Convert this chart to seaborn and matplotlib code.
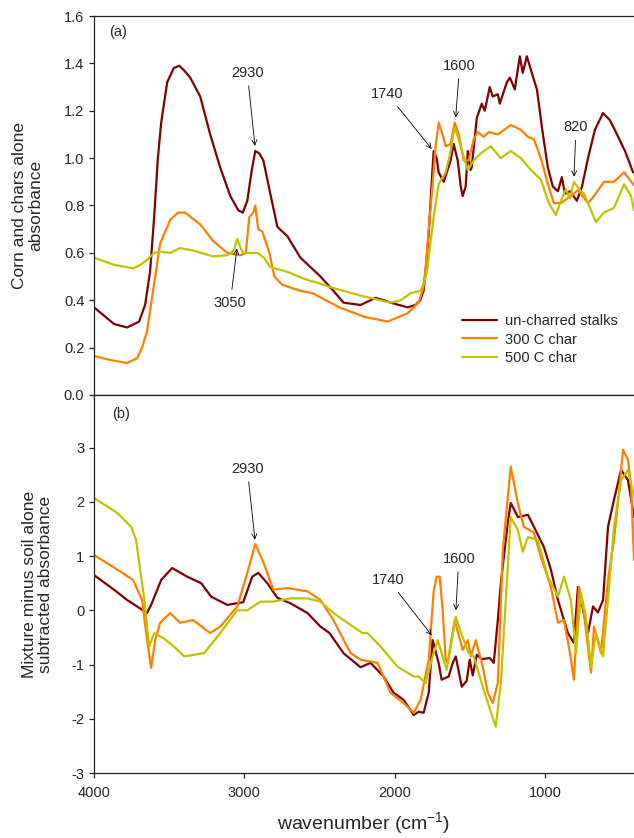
import numpy as np
import pandas as pd
import matplotlib
matplotlib.use("Agg")
import matplotlib.pyplot as plt
import seaborn as sns

# ---- panel (a): corn and chars alone ----
a_raw_wn = [4000, 3867, 3780, 3700, 3660, 3627, 3600, 3575, 3553, 3513, 3470, 3433, 3400, 3360,
            3293, 3227, 3160, 3093, 3040, 3010, 2980, 2950, 2927, 2900, 2873, 2827, 2780, 2713,
            2627, 2560, 2493, 2407, 2340, 2227, 2160, 2127, 2070, 2027, 1913, 1860, 1830, 1807,
            1790, 1773, 1753, 1740, 1720, 1707, 1673, 1627, 1607, 1580, 1560, 1547, 1527, 1513,
            1495, 1487, 1453, 1420, 1400, 1367, 1347, 1313, 1300, 1253, 1233, 1200, 1167, 1147,
            1120, 1087, 1053, 1013, 980, 947, 913, 887, 867, 833, 787, 753, 713, 667, 613, 567,
            520, 467, 413]
a_raw_val = [0.37, 0.30, 0.285, 0.31, 0.38, 0.52, 0.75, 1.00, 1.15, 1.32, 1.38, 1.39, 1.37, 1.34,
             1.26, 1.10, 0.96, 0.84, 0.78, 0.77, 0.82, 0.95, 1.03, 1.02, 0.99, 0.85, 0.71, 0.67,
             0.58, 0.54, 0.50, 0.44, 0.39, 0.38, 0.40, 0.41, 0.40, 0.39, 0.37, 0.38, 0.40, 0.44,
             0.55, 0.68, 0.90, 1.03, 1.00, 0.94, 0.90, 0.99, 1.06, 0.99, 0.88, 0.84, 0.88, 1.03,
             0.95, 0.96, 1.17, 1.23, 1.20, 1.30, 1.26, 1.27, 1.23, 1.32, 1.34, 1.29, 1.43, 1.36,
             1.43, 1.36, 1.29, 1.10, 0.96, 0.88, 0.86, 0.92, 0.85, 0.86, 0.82, 0.88, 1.00, 1.12,
             1.19, 1.16, 1.10, 1.03, 0.94]

a_300_wn = [4000, 3893, 3780, 3713, 3680, 3647, 3607, 3560, 3493, 3440, 3393, 3293, 3207, 3113,
            3027, 2990, 2967, 2940, 2927, 2907, 2880, 2833, 2800, 2747, 2627, 2547, 2367, 2200,
            2047, 1913, 1840, 1810, 1793, 1770, 1747, 1727, 1707, 1680, 1660, 1627, 1600, 1573,
            1540, 1507, 1473, 1447, 1407, 1373, 1313, 1227, 1160, 1113, 1073, 1027, 980, 940,
            893, 827, 780, 713, 673, 607, 540, 473, 407]
a_300_val = [0.165, 0.148, 0.135, 0.155, 0.20, 0.27, 0.44, 0.64, 0.74, 0.77, 0.77, 0.72, 0.65, 0.60,
             0.59, 0.60, 0.75, 0.77, 0.80, 0.70, 0.69, 0.60, 0.50, 0.465, 0.44, 0.43, 0.37, 0.33,
             0.31, 0.345, 0.39, 0.45, 0.54, 0.72, 0.89, 1.05, 1.15, 1.10, 1.05, 1.06, 1.15, 1.10,
             0.99, 0.99, 1.08, 1.11, 1.09, 1.11, 1.10, 1.14, 1.12, 1.09, 1.08, 1.00, 0.89, 0.81,
             0.81, 0.84, 0.865, 0.81, 0.84, 0.90, 0.90, 0.94, 0.885]

a_500_wn = [4000, 3870, 3740, 3690, 3647, 3600, 3560, 3493, 3427, 3340, 3207, 3113, 3070, 3047,
            3025, 3007, 2913, 2870, 2827, 2713, 2600, 2493, 2427, 2227, 2027, 1960, 1893, 1827,
            1800, 1780, 1760, 1740, 1707, 1660, 1627, 1600, 1560, 1513, 1473, 1427, 1360, 1293,
            1227, 1160, 1093, 1027, 973, 927, 893, 860, 833, 807, 760, 740, 693, 660, 607, 540,
            473, 427, 407]
a_500_val = [0.58, 0.55, 0.535, 0.55, 0.57, 0.60, 0.605, 0.60, 0.62, 0.61, 0.585, 0.59, 0.61, 0.66,
             0.62, 0.60, 0.60, 0.58, 0.54, 0.52, 0.49, 0.47, 0.455, 0.42, 0.39, 0.40, 0.43, 0.44,
             0.48, 0.54, 0.65, 0.75, 0.89, 0.94, 1.03, 1.13, 1.05, 0.95, 0.99, 1.02, 1.05, 1.00,
             1.03, 1.00, 0.95, 0.91, 0.81, 0.76, 0.82, 0.87, 0.83, 0.90, 0.86, 0.85, 0.78, 0.73,
             0.77, 0.79, 0.89, 0.84, 0.78]

# ---- panel (b): mixture minus soil alone ----
b_raw_wn = [4000, 3867, 3780, 3713, 3647, 3620, 3553, 3480, 3380, 3287, 3220, 3113, 3007, 2947,
            2907, 2847, 2780, 2693, 2580, 2493, 2433, 2340, 2227, 2160, 2073, 2007, 1940, 1873,
            1840, 1807, 1773, 1747, 1707, 1687, 1640, 1613, 1593, 1553, 1520, 1500, 1480, 1453,
            1420, 1367, 1340, 1313, 1293, 1247, 1227, 1180, 1113, 1073, 1007, 960, 913, 847, 807,
            780, 760, 713, 680, 647, 613, 580, 540, 493, 447, 407]
b_raw_val = [0.65, 0.38, 0.19, 0.07, -0.05, 0.10, 0.56, 0.78, 0.62, 0.50, 0.25, 0.10, 0.15, 0.62,
             0.69, 0.50, 0.23, 0.13, -0.05, -0.30, -0.42, -0.79, -1.05, -0.97, -1.22, -1.52, -1.65,
             -1.93, -1.87, -1.89, -1.52, -0.55, -0.97, -1.28, -1.22, -0.97, -0.85, -1.41, -1.30,
             -0.91, -1.20, -0.82, -0.90, -0.88, -0.97, -0.18, 0.50, 1.61, 1.98, 1.72, 1.76, 1.54,
             1.17, 0.75, 0.19, -0.42, -0.60, 0.43, 0.19, -0.42, 0.07, -0.04, 0.19, 1.54, 2.04, 2.59,
             2.40, 1.72]

b_300_wn = [4000, 3873, 3740, 3680, 3647, 3620, 3593, 3560, 3493, 3427, 3340, 3227, 3160, 3047,
            2980, 2927, 2880, 2847, 2807, 2713, 2580, 2493, 2407, 2293, 2227, 2113, 2027, 1940,
            1873, 1827, 1773, 1740, 1720, 1700, 1680, 1660, 1647, 1600, 1547, 1513, 1493, 1460,
            1413, 1380, 1347, 1313, 1280, 1227, 1180, 1140, 1073, 1027, 960, 913, 873, 833, 807,
            773, 740, 693, 673, 627, 580, 540, 507, 480, 447, 427, 407]
b_300_val = [1.02, 0.80, 0.56, 0.19, -0.55, -1.06, -0.55, -0.23, -0.05, -0.23, -0.18, -0.42, -0.30,
             0.07, 0.69, 1.22, 0.93, 0.69, 0.38, 0.41, 0.35, 0.19, -0.18, -0.79, -0.91, -0.97, -1.52,
             -1.71, -1.89, -1.65, -0.91, 0.35, 0.62, 0.62, 0.00, -0.90, -0.97, -0.18, -0.73, -0.55,
             -0.85, -0.55, -1.04, -1.52, -1.71, -1.34, 1.11, 2.65, 1.98, 1.54, 1.43, 0.99, 0.43,
             -0.23, -0.18, -0.79, -1.28, 0.43, -0.05, -1.15, -0.30, -0.79, 0.56, 1.30, 2.16, 2.96,
             2.77, 2.30, 0.93]

b_500_wn = [4000, 3847, 3753, 3720, 3687, 3667, 3633, 3600, 3540, 3467, 3400, 3267, 3160, 3047,
            2980, 2893, 2807, 2693, 2580, 2493, 2407, 2313, 2213, 2180, 2093, 1980, 1873, 1840,
            1793, 1747, 1713, 1653, 1593, 1560, 1507, 1473, 1407, 1327, 1293, 1260, 1227, 1180,
            1147, 1113, 1047, 980, 913, 873, 827, 793, 760, 727, 693, 660, 613, 580, 540, 493,
            447, 407]
b_500_val = [2.07, 1.80, 1.54, 1.30, 0.62, 0.25, -0.67, -0.42, -0.51, -0.67, -0.85, -0.79, -0.42,
             0.00, 0.00, 0.16, 0.16, 0.22, 0.22, 0.16, -0.05, -0.23, -0.42, -0.42, -0.67, -1.04,
             -1.22, -1.22, -1.34, -0.85, -0.55, -1.10, -0.12, -0.40, -0.79, -0.85, -1.47, -2.15,
             -1.34, 0.19, 1.72, 1.48, 1.08, 1.35, 1.30, 0.62, 0.25, 0.62, 0.19, -0.79, 0.32, -0.12,
             -1.04, -0.42, -0.85, 0.19, 1.54, 2.40, 2.59, 2.09]

series_names = ["un-charred stalks", "300 C char", "500 C char"]
colors = ["#800000", "#FF8000", "#C2C200"]


def to_frame(parts):
    frames = []
    for name, wn, val in parts:
        frames.append(pd.DataFrame({"wavenumber": wn, "absorbance": val, "sample": name}))
    return pd.concat(frames, ignore_index=True)


df_a = to_frame(zip(series_names, [a_raw_wn, a_300_wn, a_500_wn], [a_raw_val, a_300_val, a_500_val]))
df_b = to_frame(zip(series_names, [b_raw_wn, b_300_wn, b_500_wn], [b_raw_val, b_300_val, b_500_val]))

sns.set_style("ticks")
plt.rcParams["font.family"] = ["Liberation Sans", "DejaVu Sans"]
plt.rcParams["mathtext.default"] = "regular"
plt.rcParams["axes.unicode_minus"] = False

fig = plt.figure(figsize=(6.34, 8.38), dpi=100)
ax_a = fig.add_axes([94 / 634, (838 - 395) / 838, 540 / 634, 379 / 838])
ax_b = fig.add_axes([94 / 634, (838 - 773) / 838, 540 / 634, 378 / 838])

palette = dict(zip(series_names, colors))
for ax, df in [(ax_a, df_a), (ax_b, df_b)]:
    sns.lineplot(data=df, x="wavenumber", y="absorbance", hue="sample", palette=palette,
                 hue_order=series_names, sort=False, estimator=None, lw=1.6, ax=ax)
    for line in ax.get_lines():
        line.set_solid_joinstyle("round")
    ax.set_xlim(4000, 407)
    ax.set_xticks([4000, 3000, 2000, 1000])
    ax.spines["right"].set_visible(False)
    for s in ["left", "bottom", "top"]:
        ax.spines[s].set_linewidth(0.9)
        ax.spines[s].set_color("#222222")
    ax.tick_params(direction="out", length=3.5, width=0.9, labelsize=10.5, color="#222222")
    ax.set_xlabel("")
    ax.set_ylabel("")

# panel (a)
ax_a.set_ylim(0, 1.6)
ax_a.set_yticks(np.arange(0, 1.61, 0.2))
ax_a.set_yticklabels([f"{v:.1f}" for v in np.arange(0, 1.61, 0.2)])
ax_a.tick_params(axis="x", labelbottom=False)
ax_a.set_ylabel("Corn and chars alone\nabsorbance", fontsize=12.5, linespacing=1.1)
ax_a.yaxis.set_label_coords(-0.094, 0.5)
ax_a.text(0.028, 0.958, "(a)", transform=ax_a.transAxes, fontsize=10.5, va="center")
ax_a.legend(loc="upper left", bbox_to_anchor=(0.682, 0.214), frameon=False, fontsize=10.5,
            handlelength=2.35, handletextpad=0.55, labelspacing=0.32, borderpad=0,
            borderaxespad=0)

arrow = dict(arrowstyle="->", color="black", lw=0.6, mutation_scale=9)
notes_a = [("2930", (2927, 1.04), (2980, 1.36)),
           ("3050", (3047, 0.63), (3093, 0.39)),
           ("1740", (1742, 1.03), (2047, 1.27)),
           ("1600", (1595, 1.16), (1567, 1.39)),
           ("820", (807, 0.91), (793, 1.13))]
for label, xy, xytext in notes_a:
    ax_a.annotate(label, xy=xy, xytext=xytext, fontsize=10.5, ha="center", va="center",
                  arrowprops=arrow)

# panel (b)
ax_b.set_ylim(-3, 3.97)
ax_b.set_yticks(range(-3, 4))
ax_b.tick_params(axis="x", pad=6)
ax_b.set_ylabel("Mixture minus soil alone\nsubtracted absorbance", fontsize=12.5, linespacing=1.1)
ax_b.yaxis.set_label_coords(-0.076, 0.5)
ax_b.set_xlabel(r"wavenumber (cm$^{-1}$)", fontsize=14, labelpad=7)
ax_b.text(0.033, 0.95, "(b)", transform=ax_b.transAxes, fontsize=10.5, va="center")
ax_b.get_legend().remove()

notes_b = [("2930", (2927, 1.25), (2980, 2.61)),
           ("1740", (1742, -0.5), (2040, 0.56)),
           ("1600", (1593, -0.05), (1573, 0.95))]
for label, xy, xytext in notes_b:
    ax_b.annotate(label, xy=xy, xytext=xytext, fontsize=10.5, ha="center", va="center",
                  arrowprops=arrow)

fig.savefig("out.png", dpi=100)
